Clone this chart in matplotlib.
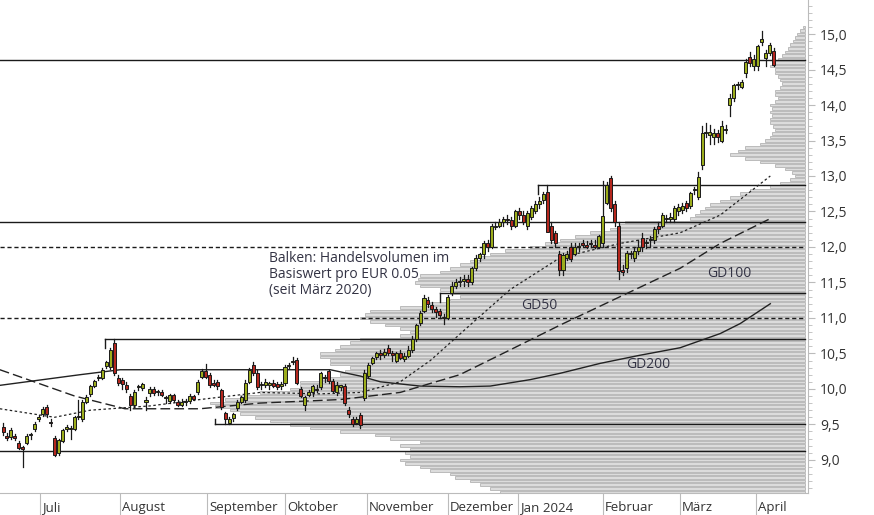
import matplotlib.pyplot as plt
import numpy as np
import matplotlib.transforms as mt
from matplotlib.ticker import MultipleLocator, FixedLocator

plt.rcParams.update({'font.size': 9, 'font.family': ['Open Sans', 'DejaVu Sans']})

# daily candles (open, high, low, close), Jun 2023 - Apr 2024
candles = [
    (9.46, 9.52, 9.35, 9.39), (9.33, 9.38, 9.28, 9.31), (9.32, 9.45, 9.30, 9.42), (9.33, 9.36, 9.28, 9.31),
    (9.24, 9.27, 9.15, 9.17), (9.17, 9.20, 8.90, 9.16), (9.24, 9.36, 9.22, 9.34), (9.35, 9.38, 9.30, 9.36),
    (9.44, 9.53, 9.40, 9.51), (9.58, 9.63, 9.55, 9.60), (9.65, 9.74, 9.62, 9.72), (9.74, 9.77, 9.60, 9.64),
    (9.54, 9.58, 9.48, 9.52), (9.31, 9.33, 9.05, 9.07), (9.10, 9.30, 9.07, 9.28), (9.27, 9.44, 9.25, 9.42),
    (9.43, 9.49, 9.40, 9.47), (9.44, 9.48, 9.30, 9.45), (9.44, 9.62, 9.42, 9.60), (9.60, 9.85, 9.58, 9.62),
    (9.57, 9.84, 9.55, 9.82), (9.82, 9.92, 9.80, 9.89), (9.93, 10.06, 9.90, 10.04), (10.04, 10.13, 10.02, 10.11),
    (10.15, 10.20, 10.12, 10.16), (10.16, 10.30, 10.14, 10.26), (10.32, 10.40, 10.30, 10.38), (10.31, 10.58, 10.28, 10.55),
    (10.65, 10.70, 10.20, 10.22), (10.16, 10.20, 10.05, 10.09), (10.13, 10.16, 10.00, 10.07), (10.06, 10.10, 9.96, 10.00),
    (9.90, 9.93, 9.70, 9.77), (9.77, 9.98, 9.74, 9.96), (10.03, 10.06, 9.98, 10.04), (10.01, 10.08, 9.98, 10.07),
    (9.82, 9.88, 9.70, 9.85), (9.94, 10.02, 9.90, 10.00), (10.00, 10.02, 9.92, 9.94), (9.95, 9.98, 9.92, 9.96),
    (9.96, 9.98, 9.90, 9.92), (9.87, 9.90, 9.80, 9.88), (9.83, 9.93, 9.80, 9.91), (9.91, 9.93, 9.82, 9.84),
    (9.82, 9.85, 9.76, 9.78), (9.78, 9.86, 9.76, 9.82), (9.82, 9.86, 9.78, 9.83), (9.83, 9.93, 9.80, 9.90),
    (9.90, 9.92, 9.85, 9.86), (9.95, 10.12, 9.93, 10.10), (10.17, 10.28, 10.15, 10.25), (10.25, 10.35, 10.15, 10.17),
    (10.20, 10.22, 10.02, 10.05), (10.08, 10.12, 10.04, 10.06), (10.10, 10.13, 10.00, 10.04), (9.98, 10.00, 9.72, 9.75),
    (9.66, 9.68, 9.50, 9.57), (9.52, 9.60, 9.50, 9.57), (9.59, 9.66, 9.55, 9.64), (9.73, 9.84, 9.70, 9.82),
    (9.82, 9.90, 9.80, 9.88), (9.84, 10.12, 9.82, 10.09), (10.10, 10.30, 10.08, 10.27), (10.33, 10.38, 10.20, 10.22),
    (10.23, 10.26, 10.00, 10.03), (10.05, 10.10, 10.00, 10.07), (10.05, 10.14, 10.02, 10.10), (10.05, 10.10, 10.00, 10.08),
    (10.08, 10.12, 10.02, 10.04), (10.07, 10.10, 10.00, 10.03), (10.04, 10.10, 10.00, 10.07), (10.08, 10.34, 10.05, 10.31),
    (10.32, 10.37, 10.30, 10.34), (10.38, 10.45, 10.35, 10.40), (10.41, 10.44, 10.07, 10.09), (10.00, 10.03, 9.88, 9.90),
    (9.77, 9.90, 9.70, 9.89), (9.92, 9.98, 9.90, 9.95), (9.95, 10.06, 9.90, 10.04), (10.00, 10.05, 9.95, 9.98),
    (10.03, 10.24, 10.00, 10.22), (10.15, 10.20, 10.10, 10.16), (10.25, 10.27, 10.08, 10.11), (10.11, 10.14, 9.95, 9.97),
    (9.95, 10.10, 9.92, 10.06), (10.03, 10.06, 9.98, 10.05), (10.04, 10.07, 9.78, 9.80), (9.70, 9.75, 9.60, 9.64),
    (9.57, 9.60, 9.48, 9.50), (9.52, 9.60, 9.50, 9.58), (9.63, 9.66, 9.45, 9.49), (9.87, 10.26, 9.85, 10.23),
    (10.18, 10.36, 10.15, 10.33), (10.37, 10.45, 10.35, 10.43), (10.45, 10.52, 10.42, 10.50), (10.50, 10.55, 10.42, 10.48),
    (10.48, 10.56, 10.45, 10.52), (10.58, 10.62, 10.48, 10.50), (10.50, 10.53, 10.40, 10.48), (10.40, 10.52, 10.38, 10.50),
    (10.50, 10.55, 10.42, 10.44), (10.42, 10.50, 10.40, 10.47), (10.47, 10.60, 10.45, 10.55), (10.55, 10.75, 10.52, 10.70),
    (10.70, 10.92, 10.68, 10.90), (10.93, 11.10, 10.90, 11.07), (11.10, 11.32, 11.08, 11.28), (11.25, 11.30, 11.15, 11.20),
    (11.18, 11.22, 11.08, 11.12), (11.12, 11.15, 11.02, 11.08), (11.10, 11.12, 11.00, 11.04), (11.00, 11.05, 10.92, 11.00),
    (11.00, 11.32, 10.98, 11.30), (11.35, 11.50, 11.33, 11.45), (11.45, 11.55, 11.42, 11.50), (11.50, 11.58, 11.45, 11.52),
    (11.52, 11.60, 11.45, 11.55), (11.55, 11.60, 11.45, 11.50), (11.50, 11.72, 11.48, 11.70), (11.70, 11.88, 11.68, 11.85),
    (11.85, 11.92, 11.80, 11.90), (11.90, 12.08, 11.85, 12.05), (12.05, 12.10, 11.95, 12.00), (12.00, 12.32, 11.98, 12.30),
    (12.28, 12.35, 12.25, 12.30), (12.30, 12.40, 12.28, 12.35), (12.35, 12.42, 12.30, 12.40), (12.40, 12.45, 12.32, 12.38),
    (12.38, 12.42, 12.25, 12.30), (12.30, 12.52, 12.28, 12.50), (12.50, 12.55, 12.40, 12.45), (12.45, 12.50, 12.32, 12.35),
    (12.30, 12.50, 12.25, 12.48), (12.42, 12.58, 12.40, 12.55), (12.50, 12.65, 12.48, 12.60), (12.60, 12.70, 12.55, 12.65),
    (12.66, 12.78, 12.62, 12.75), (12.77, 12.87, 12.30, 12.21), (12.30, 12.35, 12.05, 12.10), (12.20, 12.22, 12.00, 12.05),
    (11.90, 11.95, 11.60, 11.67), (11.67, 11.92, 11.60, 11.88), (11.85, 11.95, 11.82, 11.90), (12.00, 12.05, 11.80, 11.83),
    (11.90, 12.05, 11.88, 12.00), (12.00, 12.05, 11.95, 12.02), (12.05, 12.10, 12.00, 12.03), (12.03, 12.08, 11.98, 12.00),
    (12.05, 12.10, 12.00, 12.04), (12.03, 12.10, 11.98, 12.00), (12.00, 12.17, 11.98, 12.15), (12.05, 12.93, 12.00, 12.44),
    (12.62, 12.92, 12.60, 12.88), (12.97, 13.00, 12.50, 12.55), (12.60, 12.65, 12.30, 12.35), (12.30, 12.35, 11.55, 11.66),
    (11.68, 11.75, 11.60, 11.65), (11.70, 11.95, 11.65, 11.92), (11.90, 11.95, 11.85, 11.90), (11.85, 12.00, 11.80, 11.95),
    (11.95, 12.10, 11.90, 12.00), (12.13, 12.20, 11.95, 12.00), (12.05, 12.10, 11.98, 12.05), (12.10, 12.15, 12.00, 12.10),
    (12.10, 12.28, 12.05, 12.25), (12.30, 12.35, 12.20, 12.25), (12.30, 12.48, 12.28, 12.45), (12.40, 12.45, 12.35, 12.40),
    (12.40, 12.48, 12.35, 12.42), (12.40, 12.58, 12.35, 12.55), (12.50, 12.60, 12.45, 12.57), (12.52, 12.62, 12.48, 12.58),
    (12.62, 12.65, 12.50, 12.55), (12.58, 12.78, 12.55, 12.76), (12.80, 12.84, 12.75, 12.80), (12.70, 13.05, 12.68, 12.99),
    (13.15, 13.70, 13.10, 13.60), (13.60, 13.75, 13.55, 13.60), (13.58, 13.72, 13.45, 13.62), (13.55, 13.66, 13.45, 13.60),
    (13.60, 13.65, 13.48, 13.55), (13.50, 13.77, 13.48, 13.70), (13.65, 13.72, 13.60, 13.65), (14.00, 14.15, 13.85, 14.10),
    (14.10, 14.30, 14.05, 14.28), (14.28, 14.33, 14.22, 14.30), (14.26, 14.35, 14.24, 14.33), (14.45, 14.65, 14.40, 14.60),
    (14.68, 14.75, 14.55, 14.59), (14.55, 14.70, 14.50, 14.65), (14.55, 14.85, 14.50, 14.83), (14.89, 15.05, 14.85, 14.93),
    (14.66, 14.78, 14.55, 14.73), (14.73, 14.88, 14.70, 14.85), (14.76, 14.80, 14.55, 14.57),
]

# month labels at candle index of first trading day
month_idx = [9.3, 29.5, 51.4, 71, 91.7, 112, 129.7, 151, 170.5, 189.7]
month_labels = ['Juli', 'August', 'September', 'Oktober', 'November', 'Dezember',
                'Jan 2024', 'Februar', 'März', 'April']

# moving averages (candle index, value)
gd50_x = [-0.8, 13, 22, 37, 49.6, 64.7, 79.8, 90, 100, 107.6, 117.6, 127.7, 140.3, 155.4, 170.5, 180.6, 193.2]
gd50_y = [9.72, 9.60, 9.70, 9.76, 9.85, 9.95, 9.93, 9.95, 10.10, 10.40, 10.90, 11.40, 11.85, 12.05, 12.20, 12.45, 13.00]
gd100_x = [-0.8, 18, 30.7, 49.6, 64.7, 85, 100, 115, 127.7, 140.3, 155.4, 170.5, 180.6, 193.2]
gd100_y = [10.27, 9.90, 9.72, 9.72, 9.80, 9.85, 9.95, 10.20, 10.55, 10.90, 11.30, 11.70, 12.05, 12.40]
gd200_x = [-0.8, 19.4, 29.5, 82.4, 90, 95, 105, 115, 122.7, 132.7, 140.3, 150.4, 160, 170.5, 180.6, 185.6, 193.2]
gd200_y = [10.05, 10.20, 10.27, 10.27, 10.18, 10.10, 10.04, 10.03, 10.04, 10.13, 10.22, 10.36, 10.47, 10.58, 10.78, 10.92, 11.20]

# volume profile: price level and left edge of bar (axis pixel, bars end at 805)
vp_price = np.round(np.arange(8.55, 15.101, 0.05), 2)
vp_left = [500, 490, 480, 470, 455, 450, 430, 420, 405, 400, 410, 405, 410, 400, 420, 390, 375, 340, 310, 290,
           270, 255, 240, 230, 215, 210, 225, 240, 260, 290, 300, 300, 320, 340, 345, 350, 330, 330, 320, 320,
           335, 340, 350, 360, 400, 410, 400, 385, 370, 360, 365, 370, 400, 430, 450, 460, 450, 440, 420, 415,
           418, 420, 440, 450, 460, 470, 480, 490, 505, 530, 545, 560, 575, 590, 610, 620, 625, 690, 695, 700,
           705, 710, 720, 730, 740, 750, 770, 780, 790, 795, 792, 785, 775, 760, 745, 730, 738, 745, 760, 765,
           770, 772, 775, 773, 770, 770, 772, 770, 772, 770, 775, 778, 775, 775, 780, 782, 780, 778, 775, 775,
           770, 775, 778, 782, 785, 788, 790, 793, 795, 797, 800, 803]

# horizontal levels: price, start index, style
levels = [(14.63, None, '-'), (12.87, 134.8, '-'), (12.35, None, '-'), (12.0, None, (0, (3, 2))),
          (11.35, 110.1, '-'), (11.0, None, (0, (3, 2))), (10.7, 25.7, '-'), (9.5, 53.4, '-'), (9.13, None, '-')]

fig = plt.figure(figsize=(8.74, 5.15), dpi=100)
axv = fig.add_axes([0, 0.043, 0.925, 0.957])
ax = fig.add_axes([0, 0.043, 0.925, 0.957], sharey=axv)
ax.set_zorder(axv.get_zorder() + 1)
ax.patch.set_visible(False)

ymin, ymax = 8.535, 15.48
xmin, xmax = -0.76, 202.8

# volume profile
vp_left = np.array(vp_left)
axv.barh(vp_price, 805 - vp_left, left=vp_left, height=0.036, color='#dcdcdc',
         edgecolor='#a8a8a8', linewidth=0.5)
axv.set_xlim(0, 808)
axv.set_ylim(ymin, ymax)
axv.axis('off')

# levels
for p, start, ls in levels:
    x0 = xmin if start is None else start
    ax.plot([x0, 202], [p, p], color='#1a1a1a', lw=1.0, ls=ls, zorder=2)
    if start is not None:
        ax.plot([start, start], [p, p - 0.12 if p > 9.6 else p + 0.07], color='#1a1a1a', lw=1.0, zorder=2)

# moving averages
ax.plot(gd50_x, gd50_y, color='#222', lw=0.9, ls=(0, (2, 2)), zorder=3)
ax.plot(gd100_x, gd100_y, color='#222', lw=1.0, ls=(0, (7, 3)), zorder=3)
ax.plot(gd200_x, gd200_y, color='#222', lw=1.0, zorder=3)

# candles
for i, (o, h, l, c) in enumerate(candles):
    col = '#9cad1c' if c >= o else '#b5271e'
    ax.plot([i, i], [l, h], color='#1a1a1a', lw=0.9, zorder=4)
    bh = max(abs(c - o), 0.015)
    ax.add_patch(plt.Rectangle((i - 0.38, min(o, c)), 0.76, bh, facecolor=col,
                               edgecolor='#1a1a1a', lw=0.7, zorder=5))

txtc = '#333344'
ax.text(67, 12.0 - 0.05, 'Balken: Handelsvolumen im\nBasiswert pro EUR 0.05\n(seit März 2020)',
        fontsize=10, color=txtc, va='top', ha='left', linespacing=1.1, zorder=6)
ax.text(130.5, 11.12, 'GD50', fontsize=10, color=txtc, zorder=6)
ax.text(177.3, 11.58, 'GD100', fontsize=10, color=txtc, zorder=6)
ax.text(157, 10.3, 'GD200', fontsize=10, color=txtc, zorder=6)

ax.set_xlim(xmin, xmax)
ax.set_ylim(ymin, ymax)
for s in ['top', 'left']:
    ax.spines[s].set_visible(False)
ax.spines['right'].set_color('#bbbbbb')
ax.spines['bottom'].set_color('#bbbbbb')
ax.yaxis.tick_right()
ax.yaxis.set_minor_locator(MultipleLocator(0.1))
ax.set_yticks(np.arange(9.0, 15.01, 0.5))
ax.set_yticklabels([f'{v:.1f}'.replace('.', ',') for v in np.arange(9.0, 15.01, 0.5)])
ax.tick_params(axis='y', which='major', length=5, color='#bbbbbb', labelsize=10, labelcolor='#333')
ax.tick_params(axis='y', which='minor', length=3, color='#bbbbbb')
ax.xaxis.set_major_locator(FixedLocator(month_idx))
ax.set_xticklabels(month_labels)
ax.tick_params(axis='x', length=20, color='#bbbbbb', labelsize=9.5, labelcolor='#333', pad=-14)
for lab in ax.get_xticklabels():
    lab.set_horizontalalignment('left')
    lab.set_transform(lab.get_transform() + mt.ScaledTranslation(2 / 100, 0, fig.dpi_scale_trans))

fig.savefig('out.png', dpi=100)
